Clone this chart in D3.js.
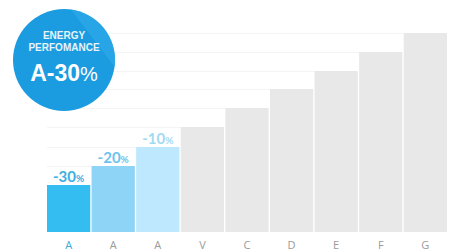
<!DOCTYPE html>
<html>
<head>
<meta charset="utf-8">
<script src="https://cdn.jsdelivr.net/npm/d3@7"></script>
<style>
  body { margin: 0; background: #fff; }
  svg { display: block; }
</style>
</head>
<body>
<svg id="chart" width="452" height="252"></svg>
<script>
// chart data
let categories = ["A", "A", "A", "V", "C", "D", "E", "F", "G"];
let values = [47, 66, 85, 105, 124, 143, 161, 180, 199];
let reductions = ["-30", "-20", "-10", null, null, null, null, null, null];
let barColors = ["#34bdf1", "#8ed4f6", "#bde8fd", "#e8e8e8", "#e8e8e8", "#e8e8e8", "#e8e8e8", "#e8e8e8", "#e8e8e8"];
let labelColors = ["#3caee2", "#6cc3ec", "#a2daf4"];
let badgeLines = ["ENERGY", "PERFOMANCE"];
let badgeValue = "A-30";

let svg = d3.select("#chart");
let baseline = 232;

let xScale = d3.scaleBand()
    .domain(d3.range(categories.length))
    .range([47, 447])
    .paddingInner(0.03)
    .paddingOuter(0);
let yScale = d3.scaleLinear()
    .domain([0, 200])
    .range([baseline, 32]);

// faint guide lines from the left to each bar top
svg.append("g")
    .selectAll("line")
    .data(values)
    .join("line")
    .attr("x1", 47)
    .attr("x2", (d, i) => xScale(i))
    .attr("y1", d => Math.round(yScale(d)) + 0.5)
    .attr("y2", d => Math.round(yScale(d)) + 0.5)
    .attr("stroke", "#f4f4f4")
    .attr("stroke-width", 1);

// bars
svg.append("g")
    .selectAll("rect")
    .data(values)
    .join("rect")
    .attr("x", (d, i) => xScale(i))
    .attr("y", d => yScale(d))
    .attr("width", xScale.bandwidth())
    .attr("height", d => baseline - yScale(d))
    .attr("fill", (d, i) => barColors[i]);

// percentage labels on the blue bars
let lab = svg.append("g")
    .selectAll("text")
    .data(values.map((v, i) => ({v: v, i: i, r: reductions[i]})).filter(d => d.r))
    .join("text")
    .attr("x", d => xScale(d.i) + xScale.bandwidth() / 2)
    .attr("y", d => yScale(d.v) - 3)
    .attr("text-anchor", "middle")
    .attr("font-family", "Lato, 'Open Sans', sans-serif")
    .attr("font-weight", "bold")
    .attr("fill", d => labelColors[d.i]);
lab.append("tspan").attr("font-size", 15).text(d => d.r);
lab.append("tspan").attr("font-size", 10).text("%");

// x axis labels
let xAxis = d3.axisBottom(xScale).tickSize(0).tickFormat(i => categories[i]);
let ax = svg.append("g")
    .attr("transform", `translate(0,${baseline})`)
    .call(xAxis);
ax.select(".domain").remove();
ax.selectAll("text")
    .attr("y", 17)
    .attr("dy", null)
    .attr("font-family", "'Open Sans', sans-serif")
    .attr("font-size", 11)
    .attr("fill", (i) => i === 0 ? "#3aa9dc" : "#9a9a9a");

// energy badge
let cx = 64, cy = 60, r = 51;
let badge = svg.append("g");
badge.append("clipPath").attr("id", "badgeClip")
    .append("circle").attr("cx", cx).attr("cy", cy).attr("r", r);
badge.append("circle")
    .attr("cx", cx).attr("cy", cy).attr("r", r)
    .attr("fill", "#1b9ce0");
badge.append("path")
    .attr("clip-path", "url(#badgeClip)")
    .attr("d", `M${cx + 5},${cy - r - 2} L${cx + r + 2},${cy - r - 2} L${cx + r + 2},${cy + 10} Z`)
    .attr("fill", "#2aa8e8")
    .attr("opacity", 0.8);
badge.selectAll("text.small")
    .data(badgeLines)
    .join("text")
    .attr("class", "small")
    .attr("x", cx)
    .attr("y", (d, i) => 39 + i * 12)
    .attr("text-anchor", "middle")
    .attr("font-family", "'Liberation Sans', Arial, sans-serif")
    .attr("font-weight", "bold")
    .attr("font-size", 10)
    .attr("fill", "#e6f4fc")
    .text(d => d);
let big = badge.append("text")
    .attr("x", cx)
    .attr("y", 81)
    .attr("text-anchor", "middle")
    .attr("font-family", "'Liberation Sans', Arial, sans-serif")
    .attr("fill", "#fff");
big.append("tspan").attr("font-size", 23).attr("font-weight", "bold").text(badgeValue);
big.append("tspan").attr("font-size", 20).text("%");
</script>
</body>
</html>
